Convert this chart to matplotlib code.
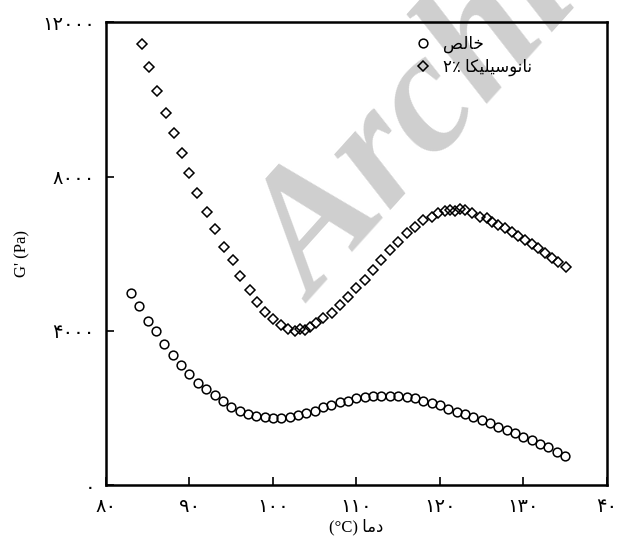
import matplotlib
matplotlib.use('Agg')
import matplotlib.pyplot as plt

# circles: pure sample
temp_pure = list(range(83, 136))
g_pure = [4992, 4647, 4267, 4000, 3663, 3379, 3120, 2887, 2662, 2490,
          2343, 2196, 2041, 1920, 1851, 1799, 1765, 1748, 1756, 1765,
          1817, 1885, 1937, 2024, 2084, 2162, 2188, 2257, 2300, 2317,
          2326, 2317, 2317, 2300, 2257, 2188, 2128, 2084, 1973, 1911,
          1851, 1765, 1696, 1610, 1522, 1437, 1351, 1263, 1178, 1074,
          989, 875, 764]

# diamonds: 2% nano-silica
temp_silica = [84.3, 85.1, 86.1, 87.2, 88.1, 89.1, 90.0, 90.9, 92.1, 93.1,
               94.1, 95.2, 96.1, 97.3, 98.1, 99.0, 100.0, 101.0, 101.8, 102.6,
               103.2, 103.8, 104.4, 105.2, 106.0, 107.1, 108.0, 109.0, 110.0, 111.0,
               112.0, 113.0, 114.0, 115.0, 116.0, 117.0, 118.0, 119.0, 119.8, 120.6,
               121.2, 121.8, 122.4, 123.0, 123.8, 124.8, 125.6, 126.2, 127.0, 127.8,
               128.6, 129.4, 130.2, 131.0, 131.8, 132.6, 133.4, 134.2, 135.1]
g_silica = [11430, 10827, 10222, 9636, 9134, 8617, 8082, 7581, 7089, 6632,
            6183, 5838, 5424, 5061, 4759, 4500, 4302, 4155, 4044, 4008,
            4044, 4026, 4096, 4215, 4337, 4466, 4673, 4888, 5105, 5320,
            5579, 5838, 6097, 6312, 6530, 6700, 6874, 6959, 7047, 7107,
            7133, 7107, 7158, 7133, 7047, 6959, 6918, 6830, 6744, 6659,
            6555, 6467, 6356, 6245, 6141, 6012, 5882, 5794, 5665]

x_ticks = [80, 90, 100, 110, 120, 130, 140]
x_tick_labels = ['۸۰', '۹۰', '۱۰۰', '۱۱۰', '۱۲۰', '۱۳۰', '۴۰']
y_ticks = [0, 4000, 8000, 12000]
y_tick_labels = ['۰', '۴۰۰۰', '۸۰۰۰', '۱۲۰۰۰']

# Persian words written in visual order with presentation forms
label_pure = '\uFEBA\uFEDF\uFE8E\uFEA7'  # khales
label_silica = '۲٪ ' + '\uFE8E\uFEDC\uFEF4\uFEE0\uFEF4\uFEB3\uFEEE\uFEE7\uFE8E\uFEE7'
x_title = '(°C) ' + '\uFE8E\uFEE3\uFEA9'
y_title = "G' (Pa)"

plt.rcParams['font.family'] = ['Liberation Serif', 'DejaVu Sans']

fig = plt.figure(figsize=(6.18, 5.45), dpi=100)
ax = fig.add_axes([0.1715, 0.1092, 0.8105, 0.8504])

# watermark, behind the data
ax.text(0.368, 0.465, 'Archive', transform=fig.transFigure, fontsize=124,
        color='#cfcfcf', rotation=48, fontweight='bold', fontstyle='italic',
        family='Liberation Serif', ha='left', va='baseline', zorder=0.5,
        clip_on=False)

ax.plot(temp_pure, g_pure, 'o', ms=6.3, mfc='none', mec='black', mew=1.1,
        label=label_pure, zorder=3)
ax.plot(temp_silica, g_silica, 'D', ms=5.4, mfc='none', mec='black', mew=1.1,
        label=label_silica, zorder=3)

ax.set_xlim(80, 140)
ax.set_ylim(0, 12000)
ax.set_xticks(x_ticks)
ax.set_xticklabels(x_tick_labels, family='DejaVu Sans')
ax.set_yticks(y_ticks)
ax.set_yticklabels(y_tick_labels, family='DejaVu Sans')
ax.tick_params(direction='in', length=6, width=1.2, labelsize=14, pad=8)
ax.tick_params(axis='x', pad=8)
for s in ax.spines.values():
    s.set_linewidth(1.8)
    s.set_zorder(4)

ax.set_xlabel(x_title, fontsize=12, labelpad=2)
ax.set_ylabel(y_title, fontsize=12, labelpad=8)

leg = ax.legend(loc='upper left', bbox_to_anchor=(0.60, 0.988), frameon=False,
                fontsize=12, handlelength=1.0, handletextpad=0.7,
                labelspacing=0.35, borderpad=0)
leg.set_zorder(5)

fig.savefig('out.png', dpi=100)
